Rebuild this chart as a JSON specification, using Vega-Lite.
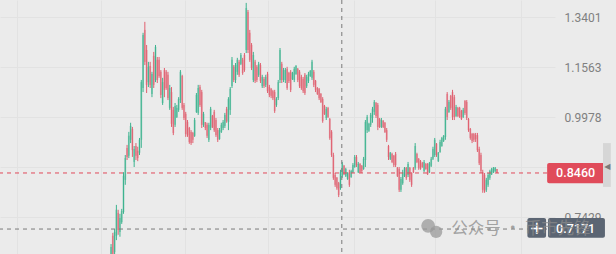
{
 "$schema": "https://vega.github.io/schema/vega-lite/v6.json",
 "width": 555, "height": 254,
 "autosize": {"type": "none"},
 "padding": {"left": 0, "top": 0, "right": 61, "bottom": 0},
 "background": "#ebebeb",
 "config": {"view": {"stroke": null}, "font": "Roboto"},
 "datasets": {
  "candles": [
{"t":0,"o":0.658,"c":0.680,"h":0.686,"l":0.655},
{"t":1,"o":0.703,"c":0.666,"h":0.709,"l":0.658},
{"t":2,"o":0.670,"c":0.711,"h":0.717,"l":0.666},
{"t":3,"o":0.703,"c":0.759,"h":0.770,"l":0.694},
{"t":4,"o":0.752,"c":0.715,"h":0.759,"l":0.705},
{"t":5,"o":0.711,"c":0.741,"h":0.750,"l":0.701},
{"t":6,"o":0.732,"c":0.756,"h":0.761,"l":0.728},
{"t":7,"o":0.754,"c":0.839,"h":0.848,"l":0.750},
{"t":8,"o":0.829,"c":0.884,"h":0.892,"l":0.817},
{"t":9,"o":0.911,"c":0.887,"h":0.919,"l":0.879},
{"t":10,"o":0.890,"c":0.944,"h":0.955,"l":0.884},
{"t":11,"o":0.933,"c":0.972,"h":0.981,"l":0.924},
{"t":12,"o":0.963,"c":0.905,"h":0.969,"l":0.887},
{"t":13,"o":0.874,"c":0.908,"h":0.916,"l":0.861},
{"t":14,"o":0.916,"c":0.890,"h":0.924,"l":0.879},
{"t":15,"o":0.903,"c":0.884,"h":0.914,"l":0.876},
{"t":16,"o":0.898,"c":0.933,"h":0.938,"l":0.892},
{"t":17,"o":0.933,"c":1.106,"h":1.113,"l":0.911},
{"t":18,"o":1.087,"c":1.271,"h":1.279,"l":1.074},
{"t":19,"o":1.290,"c":1.174,"h":1.321,"l":1.163},
{"t":20,"o":1.216,"c":1.097,"h":1.234,"l":1.071},
{"t":21,"o":1.106,"c":1.157,"h":1.174,"l":1.090},
{"t":22,"o":1.160,"c":1.097,"h":1.174,"l":1.087},
{"t":23,"o":1.068,"c":1.133,"h":1.140,"l":1.058},
{"t":24,"o":1.195,"c":1.097,"h":1.209,"l":1.087},
{"t":25,"o":1.113,"c":1.227,"h":1.234,"l":1.106},
{"t":26,"o":1.181,"c":1.113,"h":1.191,"l":1.103},
{"t":27,"o":1.181,"c":1.126,"h":1.191,"l":1.120},
{"t":28,"o":1.140,"c":1.065,"h":1.146,"l":1.055},
{"t":29,"o":1.040,"c":1.106,"h":1.120,"l":1.034},
{"t":30,"o":1.146,"c":1.081,"h":1.153,"l":1.058},
{"t":31,"o":1.140,"c":1.087,"h":1.146,"l":1.081},
{"t":32,"o":1.130,"c":1.055,"h":1.140,"l":1.049},
{"t":33,"o":1.025,"c":1.087,"h":1.097,"l":1.019},
{"t":34,"o":1.074,"c":0.978,"h":1.090,"l":0.969},
{"t":35,"o":1.019,"c":0.952,"h":1.028,"l":0.946},
{"t":36,"o":0.975,"c":1.031,"h":1.040,"l":0.969},
{"t":37,"o":0.998,"c":1.025,"h":1.034,"l":0.995},
{"t":38,"o":1.019,"c":1.052,"h":1.058,"l":1.013},
{"t":39,"o":1.049,"c":1.140,"h":1.146,"l":1.040},
{"t":40,"o":1.126,"c":1.025,"h":1.130,"l":1.019},
{"t":41,"o":1.034,"c":0.995,"h":1.040,"l":0.989},
{"t":42,"o":1.007,"c":0.949,"h":1.013,"l":0.941},
{"t":43,"o":0.983,"c":0.946,"h":0.989,"l":0.941},
{"t":44,"o":0.966,"c":0.927,"h":0.969,"l":0.922},
{"t":45,"o":0.955,"c":0.924,"h":0.960,"l":0.919},
{"t":46,"o":0.952,"c":0.933,"h":0.955,"l":0.924},
{"t":47,"o":0.944,"c":0.989,"h":0.995,"l":0.941},
{"t":48,"o":1.013,"c":1.065,"h":1.071,"l":1.010},
{"t":49,"o":1.010,"c":1.087,"h":1.097,"l":1.004},
{"t":50,"o":1.090,"c":1.034,"h":1.097,"l":1.028},
{"t":51,"o":1.074,"c":0.975,"h":1.081,"l":0.966},
{"t":52,"o":0.975,"c":1.007,"h":1.013,"l":0.969},
{"t":53,"o":0.983,"c":0.966,"h":0.983,"l":0.960},
{"t":54,"o":0.975,"c":0.944,"h":0.981,"l":0.938},
{"t":55,"o":0.933,"c":0.975,"h":0.981,"l":0.927},
{"t":56,"o":0.966,"c":1.022,"h":1.028,"l":0.960},
{"t":57,"o":1.001,"c":0.969,"h":1.004,"l":0.966},
{"t":58,"o":1.013,"c":0.960,"h":1.019,"l":0.955},
{"t":59,"o":0.989,"c":0.946,"h":0.995,"l":0.941},
{"t":60,"o":0.960,"c":0.933,"h":0.966,"l":0.927},
{"t":61,"o":0.935,"c":0.960,"h":0.966,"l":0.933},
{"t":62,"o":0.955,"c":0.975,"h":0.981,"l":0.952},
{"t":63,"o":0.966,"c":0.983,"h":0.989,"l":0.960},
{"t":64,"o":0.972,"c":1.004,"h":1.010,"l":0.966},
{"t":65,"o":1.022,"c":0.986,"h":1.028,"l":0.981},
{"t":66,"o":0.983,"c":1.052,"h":1.058,"l":0.960},
{"t":67,"o":1.019,"c":1.084,"h":1.090,"l":1.004},
{"t":68,"o":1.093,"c":1.181,"h":1.191,"l":1.087},
{"t":69,"o":1.157,"c":1.113,"h":1.163,"l":1.106},
{"t":70,"o":1.113,"c":1.163,"h":1.170,"l":1.103},
{"t":71,"o":1.140,"c":1.181,"h":1.188,"l":1.130},
{"t":72,"o":1.174,"c":1.130,"h":1.181,"l":1.123},
{"t":73,"o":1.167,"c":1.198,"h":1.205,"l":1.163},
{"t":74,"o":1.181,"c":1.136,"h":1.188,"l":1.130},
{"t":75,"o":1.198,"c":1.146,"h":1.205,"l":1.140},
{"t":76,"o":1.216,"c":1.376,"h":1.397,"l":1.205},
{"t":77,"o":1.360,"c":1.216,"h":1.368,"l":1.205},
{"t":78,"o":1.279,"c":1.181,"h":1.290,"l":1.174},
{"t":79,"o":1.234,"c":1.153,"h":1.241,"l":1.146},
{"t":80,"o":1.113,"c":1.198,"h":1.209,"l":1.106},
{"t":81,"o":1.174,"c":1.110,"h":1.181,"l":1.103},
{"t":82,"o":1.157,"c":1.113,"h":1.163,"l":1.106},
{"t":83,"o":1.130,"c":1.167,"h":1.174,"l":1.123},
{"t":84,"o":1.163,"c":1.110,"h":1.170,"l":1.103},
{"t":85,"o":1.093,"c":1.123,"h":1.130,"l":1.087},
{"t":86,"o":1.116,"c":1.093,"h":1.123,"l":1.087},
{"t":87,"o":1.097,"c":1.123,"h":1.130,"l":1.090},
{"t":88,"o":1.133,"c":1.077,"h":1.140,"l":1.071},
{"t":89,"o":1.090,"c":1.065,"h":1.097,"l":1.058},
{"t":90,"o":1.084,"c":1.062,"h":1.087,"l":1.055},
{"t":91,"o":1.077,"c":1.055,"h":1.081,"l":1.049},
{"t":92,"o":1.074,"c":1.016,"h":1.081,"l":1.010},
{"t":93,"o":1.034,"c":1.052,"h":1.058,"l":1.028},
{"t":94,"o":1.055,"c":1.106,"h":1.113,"l":1.049},
{"t":95,"o":1.113,"c":1.216,"h":1.223,"l":1.103},
{"t":96,"o":1.167,"c":1.113,"h":1.174,"l":1.103},
{"t":97,"o":1.113,"c":1.146,"h":1.153,"l":1.106},
{"t":98,"o":1.113,"c":1.146,"h":1.153,"l":1.103},
{"t":99,"o":1.150,"c":1.087,"h":1.157,"l":1.081},
{"t":100,"o":1.136,"c":1.110,"h":1.140,"l":1.103},
{"t":101,"o":1.140,"c":1.081,"h":1.146,"l":1.074},
{"t":102,"o":1.116,"c":1.136,"h":1.140,"l":1.113},
{"t":103,"o":1.113,"c":1.150,"h":1.157,"l":1.106},
{"t":104,"o":1.133,"c":1.160,"h":1.163,"l":1.130},
{"t":105,"o":1.150,"c":1.113,"h":1.153,"l":1.106},
{"t":106,"o":1.140,"c":1.093,"h":1.146,"l":1.087},
{"t":107,"o":1.123,"c":1.087,"h":1.130,"l":1.081},
{"t":108,"o":1.116,"c":1.077,"h":1.123,"l":1.071},
{"t":109,"o":1.130,"c":1.071,"h":1.136,"l":1.065},
{"t":110,"o":1.093,"c":1.123,"h":1.130,"l":1.087},
{"t":111,"o":1.110,"c":1.133,"h":1.140,"l":1.103},
{"t":112,"o":1.126,"c":1.143,"h":1.146,"l":1.123},
{"t":113,"o":1.120,"c":1.174,"h":1.181,"l":1.113},
{"t":114,"o":1.140,"c":1.097,"h":1.146,"l":1.090},
{"t":115,"o":1.110,"c":1.081,"h":1.113,"l":1.074},
{"t":116,"o":1.087,"c":1.068,"h":1.090,"l":1.065},
{"t":117,"o":1.084,"c":1.055,"h":1.087,"l":1.049},
{"t":118,"o":1.068,"c":1.043,"h":1.071,"l":1.040},
{"t":119,"o":1.052,"c":0.986,"h":1.058,"l":0.981},
{"t":120,"o":1.031,"c":1.007,"h":1.034,"l":1.004},
{"t":121,"o":0.995,"c":1.022,"h":1.028,"l":0.989},
{"t":122,"o":1.025,"c":0.998,"h":1.028,"l":0.995},
{"t":123,"o":0.992,"c":0.938,"h":0.995,"l":0.933},
{"t":124,"o":0.955,"c":0.892,"h":0.960,"l":0.887},
{"t":125,"o":0.892,"c":0.834,"h":0.898,"l":0.829},
{"t":126,"o":0.841,"c":0.817,"h":0.846,"l":0.812},
{"t":127,"o":0.834,"c":0.809,"h":0.836,"l":0.805},
{"t":128,"o":0.821,"c":0.793,"h":0.824,"l":0.788},
{"t":129,"o":0.809,"c":0.848,"h":0.854,"l":0.805},
{"t":130,"o":0.839,"c":0.869,"h":0.874,"l":0.834},
{"t":131,"o":0.864,"c":0.843,"h":0.866,"l":0.841},
{"t":132,"o":0.839,"c":0.856,"h":0.859,"l":0.836},
{"t":133,"o":0.831,"c":0.846,"h":0.848,"l":0.829},
{"t":134,"o":0.848,"c":0.817,"h":0.854,"l":0.812},
{"t":135,"o":0.836,"c":0.851,"h":0.854,"l":0.834},
{"t":136,"o":0.848,"c":0.866,"h":0.871,"l":0.846},
{"t":137,"o":0.861,"c":0.887,"h":0.892,"l":0.859},
{"t":138,"o":0.887,"c":0.866,"h":0.892,"l":0.861},
{"t":139,"o":0.848,"c":0.869,"h":0.874,"l":0.846},
{"t":140,"o":0.869,"c":0.848,"h":0.871,"l":0.846},
{"t":141,"o":0.864,"c":0.851,"h":0.866,"l":0.846},
{"t":142,"o":0.856,"c":0.882,"h":0.887,"l":0.854},
{"t":143,"o":0.879,"c":0.983,"h":0.989,"l":0.861},
{"t":144,"o":0.960,"c":0.998,"h":1.004,"l":0.952},
{"t":145,"o":0.958,"c":0.978,"h":0.981,"l":0.955},
{"t":146,"o":0.975,"c":1.004,"h":1.010,"l":0.969},
{"t":147,"o":0.995,"c":1.022,"h":1.028,"l":0.981},
{"t":148,"o":1.013,"c":1.043,"h":1.049,"l":1.004},
{"t":149,"o":1.040,"c":1.001,"h":1.043,"l":0.995},
{"t":150,"o":1.034,"c":0.969,"h":1.040,"l":0.960},
{"t":151,"o":0.992,"c":0.969,"h":0.995,"l":0.966},
{"t":152,"o":0.969,"c":0.989,"h":0.995,"l":0.966},
{"t":153,"o":0.986,"c":0.969,"h":0.989,"l":0.966},
{"t":154,"o":0.981,"c":0.955,"h":0.983,"l":0.952},
{"t":155,"o":0.960,"c":0.933,"h":0.966,"l":0.927},
{"t":156,"o":0.916,"c":0.887,"h":0.919,"l":0.879},
{"t":157,"o":0.882,"c":0.898,"h":0.900,"l":0.879},
{"t":158,"o":0.895,"c":0.874,"h":0.898,"l":0.871},
{"t":159,"o":0.890,"c":0.866,"h":0.892,"l":0.861},
{"t":160,"o":0.895,"c":0.866,"h":0.900,"l":0.861},
{"t":161,"o":0.859,"c":0.839,"h":0.861,"l":0.836},
{"t":162,"o":0.856,"c":0.805,"h":0.861,"l":0.800},
{"t":163,"o":0.805,"c":0.831,"h":0.836,"l":0.800},
{"t":164,"o":0.821,"c":0.848,"h":0.854,"l":0.817},
{"t":165,"o":0.839,"c":0.859,"h":0.861,"l":0.836},
{"t":166,"o":0.859,"c":0.834,"h":0.861,"l":0.829},
{"t":167,"o":0.841,"c":0.869,"h":0.874,"l":0.836},
{"t":168,"o":0.859,"c":0.829,"h":0.861,"l":0.824},
{"t":169,"o":0.846,"c":0.817,"h":0.848,"l":0.812},
{"t":170,"o":0.859,"c":0.848,"h":0.861,"l":0.846},
{"t":171,"o":0.859,"c":0.916,"h":0.924,"l":0.854},
{"t":172,"o":0.895,"c":0.874,"h":0.898,"l":0.871},
{"t":173,"o":0.882,"c":0.859,"h":0.884,"l":0.854},
{"t":174,"o":0.876,"c":0.856,"h":0.879,"l":0.854},
{"t":175,"o":0.871,"c":0.861,"h":0.874,"l":0.859},
{"t":176,"o":0.851,"c":0.874,"h":0.879,"l":0.848},
{"t":177,"o":0.869,"c":0.856,"h":0.871,"l":0.854},
{"t":178,"o":0.869,"c":0.843,"h":0.871,"l":0.841},
{"t":179,"o":0.848,"c":0.871,"h":0.874,"l":0.846},
{"t":180,"o":0.864,"c":0.882,"h":0.887,"l":0.861},
{"t":181,"o":0.882,"c":0.908,"h":0.914,"l":0.879},
{"t":182,"o":0.892,"c":0.933,"h":0.938,"l":0.887},
{"t":183,"o":0.922,"c":0.892,"h":0.924,"l":0.887},
{"t":184,"o":0.876,"c":0.898,"h":0.900,"l":0.874},
{"t":185,"o":0.900,"c":0.927,"h":0.933,"l":0.898},
{"t":186,"o":0.916,"c":0.938,"h":0.941,"l":0.914},
{"t":187,"o":0.930,"c":0.944,"h":0.946,"l":0.927},
{"t":188,"o":0.941,"c":1.022,"h":1.028,"l":0.933},
{"t":189,"o":1.068,"c":0.998,"h":1.074,"l":0.989},
{"t":190,"o":1.013,"c":1.043,"h":1.049,"l":1.010},
{"t":191,"o":1.062,"c":1.025,"h":1.065,"l":1.019},
{"t":192,"o":1.074,"c":0.998,"h":1.081,"l":0.989},
{"t":193,"o":1.058,"c":0.998,"h":1.065,"l":0.989},
{"t":194,"o":1.001,"c":1.028,"h":1.034,"l":0.998},
{"t":195,"o":1.025,"c":1.001,"h":1.028,"l":0.998},
{"t":196,"o":1.025,"c":0.998,"h":1.028,"l":0.995},
{"t":197,"o":1.016,"c":0.992,"h":1.019,"l":0.989},
{"t":198,"o":0.998,"c":1.019,"h":1.025,"l":0.995},
{"t":199,"o":1.046,"c":1.010,"h":1.049,"l":1.004},
{"t":200,"o":1.043,"c":0.995,"h":1.049,"l":0.989},
{"t":201,"o":0.992,"c":0.960,"h":0.995,"l":0.955},
{"t":202,"o":0.963,"c":0.938,"h":0.966,"l":0.933},
{"t":203,"o":0.949,"c":0.930,"h":0.952,"l":0.924},
{"t":204,"o":0.949,"c":0.933,"h":0.952,"l":0.927},
{"t":205,"o":0.946,"c":0.935,"h":0.952,"l":0.927},
{"t":206,"o":0.946,"c":0.905,"h":0.952,"l":0.900},
{"t":207,"o":0.908,"c":0.871,"h":0.914,"l":0.866},
{"t":208,"o":0.892,"c":0.851,"h":0.898,"l":0.846},
{"t":209,"o":0.848,"c":0.805,"h":0.854,"l":0.798},
{"t":210,"o":0.841,"c":0.802,"h":0.846,"l":0.798},
{"t":211,"o":0.805,"c":0.829,"h":0.834,"l":0.800},
{"t":212,"o":0.817,"c":0.841,"h":0.846,"l":0.812},
{"t":213,"o":0.834,"c":0.851,"h":0.854,"l":0.829},
{"t":214,"o":0.843,"c":0.856,"h":0.859,"l":0.841},
{"t":215,"o":0.848,"c":0.859,"h":0.861,"l":0.846},
{"t":216,"o":0.851,"c":0.859,"h":0.861,"l":0.848},
{"t":217,"o":0.856,"c":0.846,"h":0.856,"l":0.846}
  ]
 },
 "layer": [
  {
   "data": {"name": "candles"},
   "mark": {"type": "rule", "clip": true, "strokeWidth": 1},
   "encoding": {
    "x": {"field": "t", "type": "quantitative",
          "scale": {"domain": [-59.63, 246.81], "nice": false, "zero": false},
          "axis": {"title": null, "labels": false, "ticks": false, "domain": false, "grid": true, "gridColor": "#e2e2e2", "values": [-53, -5.5, 41.4, 88.3, 136.4, 182.2, 230.3]}},
    "y": {"field": "l", "type": "quantitative",
          "scale": {"type": "log", "domain": [0.6662, 1.409], "nice": false},
          "axis": {"orient": "right", "title": null, "ticks": false, "domain": false, "grid": true, "gridColor": "#e2e2e2", "values": [0.7429, 0.861, 0.9978, 1.1563, 1.3401], "format": ".4f", "labelFontSize": 12, "labelColor": "#808080", "labelPadding": 9, "labelFont": "Roboto"}},
    "y2": {"field": "h"},
    "color": {"condition": {"test": "datum.c >= datum.o", "value": "#3db38f"}, "value": "#e0606f"}
   }
  },
  {
   "data": {"name": "candles"},
   "mark": {"type": "bar", "clip": true, "width": 1.8, "opacity": 0.5},
   "encoding": {
    "x": {"field": "t", "type": "quantitative"},
    "y": {"field": "o", "type": "quantitative"},
    "y2": {"field": "c"},
    "color": {"condition": {"test": "datum.c >= datum.o", "value": "#3db38f"}, "value": "#e0606f"}
   }
  },
  {
   "data": {"values": [{}]},
   "mark": {"type": "rule", "color": "#e0485a", "strokeDash": [4, 4], "strokeWidth": 1},
   "encoding": {"y": {"datum": 0.846}}
  },
  {
   "data": {"values": [{}]},
   "mark": {"type": "rule", "color": "#7a7a7a", "strokeDash": [4, 4], "strokeWidth": 1},
   "encoding": {"y": {"datum": 0.7171}}
  },
  {
   "data": {"values": [{}]},
   "mark": {"type": "rule", "color": "#7a7a7a", "strokeDash": [4, 4], "strokeWidth": 1},
   "encoding": {"x": {"datum": 129.75}}
  },
  {
   "data": {"values": [{}]},
   "mark": {"type": "rect", "color": "#e04b5a", "cornerRadius": 2},
   "encoding": {"x": {"datum": 245.2}, "x2": {"datum": 277.7}, "y": {"datum": 0.871}, "y2": {"datum": 0.821}}
  },
  {
   "data": {"values": [{}]},
   "mark": {"type": "text", "color": "#ffffff", "fontSize": 12.5, "fontWeight": 500, "font": "Roboto"},
   "encoding": {"x": {"datum": 261.2}, "y": {"datum": 0.846}, "text": {"value": "0.8460"}}
  },
  {
   "data": {"values": [{}]},
   "mark": {"type": "rect", "color": "#5b6573", "cornerRadius": 2},
   "encoding": {"x": {"datum": 234.1}, "x2": {"datum": 244.6}, "y": {"datum": 0.741}, "y2": {"datum": 0.699}}
  },
  {
   "data": {"values": [{}]},
   "mark": {"type": "rect", "color": "#5b6573", "cornerRadius": 2},
   "encoding": {"x": {"datum": 245.7}, "x2": {"datum": 277.7}, "y": {"datum": 0.741}, "y2": {"datum": 0.699}}
  },
  {
   "data": {"values": [{}]},
   "mark": {"type": "text", "color": "#ffffff", "fontSize": 18, "font": "DejaVu Sans"},
   "encoding": {"x": {"datum": 239.4}, "y": {"datum": 0.718}, "text": {"value": "+"}}
  },
  {
   "data": {"values": [{}]},
   "mark": {"type": "text", "color": "#ffffff", "fontSize": 12.5, "fontWeight": 500, "font": "Roboto"},
   "encoding": {"x": {"datum": 261.2}, "y": {"datum": 0.7171}, "text": {"value": "0.7171"}}
  },
  {
   "data": {"values": [{}]},
   "mark": {"type": "rect", "color": "#d6d6d6"},
   "encoding": {"x": {"datum": 276.6}, "x2": {"datum": 281}, "y": {"datum": 0.924}, "y2": {"datum": 0.812}}
  },
  {
   "data": {"values": [{}]},
   "mark": {"type": "text", "color": "#7a7a7a", "fontSize": 8, "font": "DejaVu Sans"},
   "encoding": {"x": {"datum": 279}, "y": {"datum": 0.861}, "text": {"value": "◀"}}
  },
  {
   "data": {"values": [{"t": 178.3, "p": 0.724, "s": 190}, {"t": 182.8, "p": 0.711, "s": 150}]},
   "mark": {"type": "circle", "color": "#9a9a9a", "opacity": 0.75},
   "encoding": {"x": {"field": "t", "type": "quantitative"}, "y": {"field": "p", "type": "quantitative"}, "size": {"field": "s", "type": "quantitative", "scale": null}}
  },
  {
   "data": {"values": [{}]},
   "mark": {"type": "text", "color": "#8a8a8a", "opacity": 0.75, "fontSize": 16.5, "align": "left", "font": "Noto Sans CJK SC"},
   "encoding": {"x": {"datum": 191.3}, "y": {"datum": 0.7171}, "text": {"value": "公众号 · 币市先锋"}}
  }
 ]
}
